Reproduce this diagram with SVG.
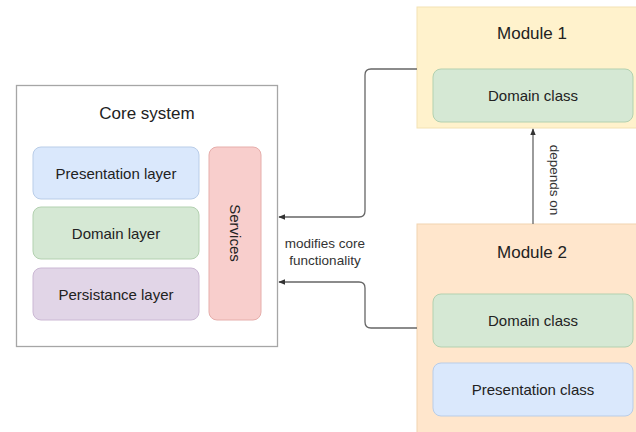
<svg xmlns="http://www.w3.org/2000/svg" width="636" height="432" viewBox="0 0 636 432">
  <defs>
    <marker id="arrow" viewBox="0 0 10 10" refX="9" refY="5" markerWidth="7" markerHeight="7" orient="auto" markerUnits="userSpaceOnUse">
      <path d="M0,1 L10,5 L0,9 Z" fill="#333"/>
    </marker>
    <style>
      text { font-family: "Liberation Sans", Arial, Helvetica, sans-serif; fill: #222; text-anchor: middle; dominant-baseline: central; }
      .title { font-size: 17px; }
      .lbl { font-size: 15px; }
      .edge-lbl { font-size: 13.5px; fill: #333; }
      .link { fill: none; stroke: #666; stroke-width: 1.3; }
      .blue { fill: #dae8fc; stroke: #b9cde8; stroke-width: 1; }
      .green { fill: #d5e8d4; stroke: #b3d1b0; stroke-width: 1; }
      .purple { fill: #e1d5e7; stroke: #cbb8d4; stroke-width: 1; }
      .red { fill: #f8cecc; stroke: #e6aeab; stroke-width: 1; }
    </style>
  </defs>

  <rect width="636" height="432" fill="#ffffff"/>

  <!-- Core system container -->
  <g id="core-system">
    <rect x="16.5" y="85.5" width="261" height="261" fill="#ffffff" stroke="#a6a6a6" stroke-width="1.3"/>
    <text class="title" x="147" y="113">Core system</text>
  </g>
  <g id="presentation-layer">
    <rect class="blue" x="33" y="147" width="166" height="52" rx="8"/>
    <text class="lbl" x="116" y="173">Presentation layer</text>
  </g>
  <g id="domain-layer">
    <rect class="green" x="33" y="207" width="166" height="52" rx="8"/>
    <text class="lbl" x="116" y="233">Domain layer</text>
  </g>
  <g id="persistance-layer">
    <rect class="purple" x="33" y="268" width="166" height="52" rx="8"/>
    <text class="lbl" x="116" y="294">Persistance layer</text>
  </g>
  <g id="services">
    <rect class="red" x="209" y="147" width="52" height="173" rx="8"/>
    <text class="lbl" transform="translate(235 233) rotate(90)">Services</text>
  </g>

  <!-- Module 1 -->
  <g id="module-1">
    <rect x="417" y="7" width="240" height="121" fill="#fff2cc" stroke="#f3e2b3" stroke-width="1"/>
    <text class="title" x="532" y="33">Module 1</text>
  </g>
  <g id="module-1-domain-class">
    <rect class="green" x="433" y="69" width="200" height="53" rx="8"/>
    <text class="lbl" x="533" y="95">Domain class</text>
  </g>

  <!-- Module 2 -->
  <g id="module-2">
    <rect x="417" y="224" width="240" height="220" fill="#ffe6cc" stroke="#f2d3b0" stroke-width="1"/>
    <text class="title" x="532" y="252">Module 2</text>
  </g>
  <g id="module-2-domain-class">
    <rect class="green" x="433" y="294" width="200" height="53" rx="8"/>
    <text class="lbl" x="533" y="320">Domain class</text>
  </g>
  <g id="module-2-presentation-class">
    <rect class="blue" x="433" y="363" width="200" height="53" rx="8"/>
    <text class="lbl" x="533" y="389">Presentation class</text>
  </g>

  <!-- Connectors -->
  <g id="connectors">
    <path class="link" d="M417,69 H371 Q365,69 365,75 V211 Q365,217 359,217 H279" marker-end="url(#arrow)"/>
    <path class="link" d="M417,328 H371 Q365,328 365,322 V288 Q365,282 359,282 H279" marker-end="url(#arrow)"/>
    <path class="link" d="M533,224 V129" marker-end="url(#arrow)"/>
    <text class="edge-lbl" x="325" y="243">modifies core</text>
    <text class="edge-lbl" x="325" y="260">functionality</text>
    <text class="edge-lbl" transform="translate(554 180) rotate(90)">depends on</text>
  </g>
</svg>
